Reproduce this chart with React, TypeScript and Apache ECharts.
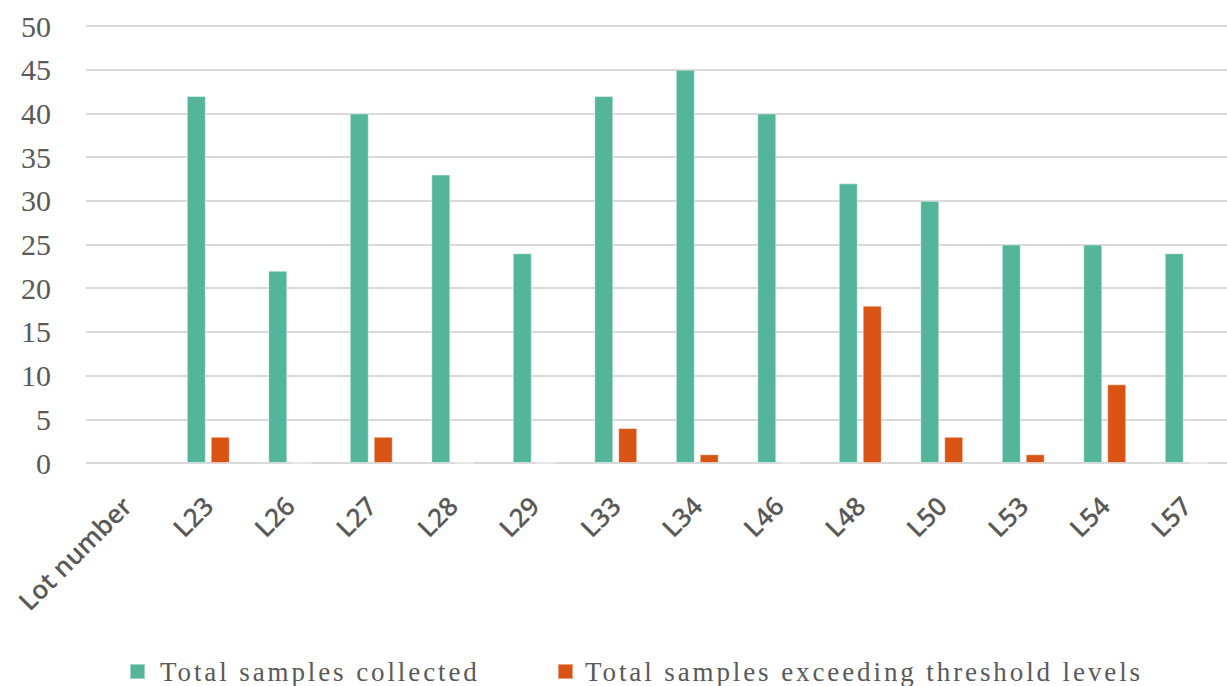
import React, { useEffect, useRef } from "react";
import * as echarts from "echarts";

const categories = ["Lot number", "L23", "L26", "L27", "L28", "L29", "L33", "L34", "L46", "L48", "L50", "L53", "L54", "L57"];
const collected = [null, 42, 22, 40, 33, 24, 42, 45, 40, 32, 30, 25, 25, 24];
const exceeding = [null, 3, 0, 3, 0, 0, 4, 1, 0, 18, 3, 1, 9, 0];
const yTicks = { min: 0, max: 50, interval: 5 };
const seriesNames = ["Total samples collected", "Total samples exceeding threshold levels"];

const GREEN = "#55B59A";
const ORANGE = "#D95314";
const TEXT = "#595959";
const SERIF = "Liberation Serif";
const SANS = "Open Sans";

export default function App() {
  const ref = useRef<HTMLDivElement>(null);

  useEffect(() => {
    const el = ref.current;
    if (!el) return;
    const chart = echarts.init(el, null, { renderer: "svg" });

    // legend captions are set with wide tracking
    const spaceLegend = () => {
      el.querySelectorAll("text").forEach((t) => {
        if (seriesNames.includes((t.textContent || "").trim())) {
          t.setAttribute("letter-spacing", "2.9");
        }
      });
    };
    chart.on("finished", spaceLegend);

    const legendText = { fontFamily: SERIF, fontSize: 27, color: TEXT };
    chart.setOption({
      animation: false,
      backgroundColor: "#ffffff",
      grid: { left: 86, top: 26, width: 1145, height: 437, containLabel: false },
      legend: [
        {
          data: [seriesNames[0]],
          left: 124,
          top: 653,
          itemWidth: 15,
          itemHeight: 15,
          icon: "rect",
          textStyle: { ...legendText, padding: [0, 0, 0, 10] },
        },
        {
          data: [seriesNames[1]],
          left: 552,
          top: 653,
          itemWidth: 15,
          itemHeight: 15,
          icon: "rect",
          textStyle: { ...legendText, padding: [0, 0, 0, 7] },
        },
      ],
      xAxis: {
        type: "category",
        data: categories,
        axisLine: { show: false },
        axisTick: { show: false },
        axisLabel: {
          interval: 0,
          rotate: 45,
          margin: 38,
          fontFamily: SANS,
          fontSize: 26,
          fontWeight: 600,
          color: TEXT,
        },
      },
      yAxis: {
        type: "value",
        min: yTicks.min,
        max: yTicks.max,
        interval: yTicks.interval,
        axisLine: { show: false },
        axisTick: { show: false },
        axisLabel: { fontFamily: SERIF, fontSize: 30, color: TEXT, margin: 35 },
        splitLine: { lineStyle: { color: "#D9D9D9", width: 2 } },
      },
      series: [
        {
          name: seriesNames[0],
          type: "bar",
          data: collected,
          barWidth: 19,
          barGap: "26%",
          itemStyle: { color: GREEN, borderColor: "rgba(255,255,255,0.45)", borderWidth: 1 },
        },
        {
          name: seriesNames[1],
          type: "bar",
          data: exceeding,
          barWidth: 19,
          itemStyle: { color: ORANGE, borderColor: "rgba(255,255,255,0.45)", borderWidth: 1 },
        },
      ],
    });
    spaceLegend();
    return () => chart.dispose();
  }, []);

  return (
    <div
      ref={ref}
      style={{ position: "absolute", left: 0, top: 0, width: 1227, height: 686, background: "#fff" }}
    />
  );
}
